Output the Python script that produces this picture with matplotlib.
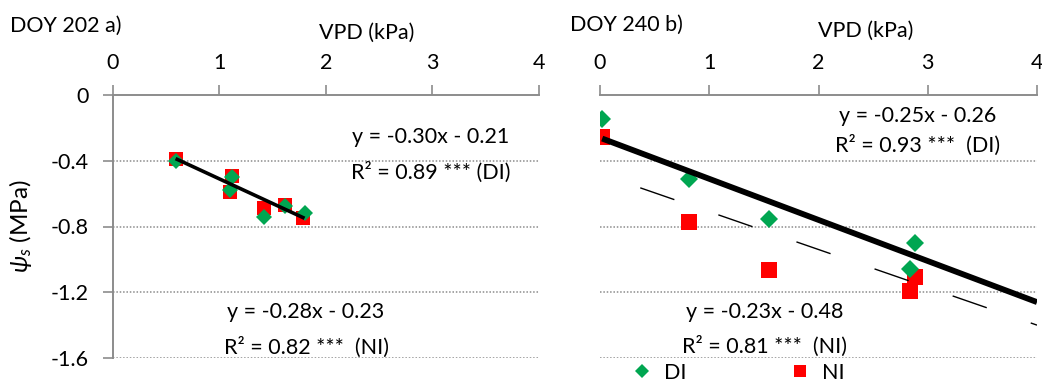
import numpy as np
import matplotlib
matplotlib.use("Agg")
import matplotlib.pyplot as plt

# ---------------------------------------------------------------------------#
# data
# DOY 202 (panel a)
vpd_a_di = [0.59, 1.12, 1.10, 1.42, 1.62, 1.80]
psi_a_di = [-0.40, -0.50, -0.576, -0.743, -0.678, -0.716]
vpd_a_ni = [0.59, 1.12, 1.10, 1.42, 1.615, 1.79]
psi_a_ni = [-0.387, -0.495, -0.59, -0.69, -0.67, -0.75]

# DOY 240 (panel b)
vpd_b_di = [0.02, 0.815, 1.545, 2.887, 2.837]
psi_b_di = [-0.148, -0.509, -0.753, -0.90, -1.058]
vpd_b_ni = [0.02, 0.815, 1.545, 2.887, 2.837]
psi_b_ni = [-0.255, -0.774, -1.063, -1.105, -1.195]

# regression coefficients (slope, intercept)
fit_a_di = (-0.30, -0.21)
fit_b_di = (-0.25, -0.26)
fit_b_ni = (-0.23, -0.48)

xticks = [0, 1, 2, 3, 4]
yticks = [0, -0.4, -0.8, -1.2, -1.6]
ytick_labels = ["0", "-0.4", "-0.8", "-1.2", "-1.6"]

GREEN = "#00a651"
RED = "#ff0000"
GREY = "#8c8c8c"
FONT = "Lato"
FS = 15.5

plt.rcParams["font.family"] = [FONT, "DejaVu Sans"]
plt.rcParams["mathtext.fontset"] = "custom"
plt.rcParams["mathtext.it"] = FONT + ":italic"
plt.rcParams["mathtext.rm"] = FONT

W, H = 1042, 385
fig = plt.figure(figsize=(W / 100, H / 100), dpi=100)


def px(x, y):
    """pixel position (from top left) -> figure fraction"""
    return x / W, 1 - y / H


def make_axes(left, right):
    ax = fig.add_axes([left / W, 1 - 358 / H, (right - left) / W, 263 / H])
    ax.set_xlim(0, 4)
    ax.set_ylim(-1.6, 0)
    ax.xaxis.tick_top()
    ax.set_xticks(xticks)
    ax.set_xticklabels([str(t) for t in xticks], fontsize=FS)
    ax.tick_params(axis="x", direction="out", length=7, width=1.2,
                   color=GREY, pad=9)
    ax.set_yticks(yticks)
    for s in ["bottom", "right"]:
        ax.spines[s].set_visible(False)
    for s in ["top", "left"]:
        ax.spines[s].set_color(GREY)
        ax.spines[s].set_linewidth(1.4)
    # dotted horizontal grid
    for yv in yticks[1:]:
        ax.axhline(yv, color=GREY, lw=1.1, ls=(0, (1, 1.2)), zorder=0)
    return ax


#-------------------------------panel a--------------------------------------#
ax1 = make_axes(112.7, 539)
ax1.set_yticklabels(ytick_labels, fontsize=FS)
ax1.tick_params(axis="y", direction="out", length=7, width=1.2,
                color=GREY, pad=10)
ax1.plot(vpd_a_ni, psi_a_ni, "s", color=RED, ms=10, mew=0, zorder=3)
ax1.plot(vpd_a_di, psi_a_di, "D", color=GREEN, ms=8.2, mew=0, zorder=4)
xa = np.array([min(vpd_a_di), max(vpd_a_di)])
ax1.plot(xa, fit_a_di[0] * xa + fit_a_di[1], color="black", lw=2.6,
         solid_capstyle="butt", zorder=5)

#-------------------------------panel b--------------------------------------#
ax2 = make_axes(600, 1037)
ax2.spines["left"].set_visible(False)
ax2.tick_params(axis="y", left=False, labelleft=False)
ax2.plot(vpd_b_ni, psi_b_ni, "s", color=RED, ms=12.2, mew=0, zorder=3)
ax2.plot(vpd_b_di, psi_b_di, "D", color=GREEN, ms=8.7, mew=0, zorder=4)
xb = np.array([min(vpd_b_di), 4])
ax2.plot(xb, fit_b_di[0] * xb + fit_b_di[1], color="black", lw=4.2,
         solid_capstyle="butt", zorder=5)
ax2.plot(xb, fit_b_ni[0] * xb + fit_b_ni[1], color="black", lw=1.0,
         ls=(30.5, (26, 33.5)), zorder=5)

#-------------------------------labels---------------------------------------#
fig.text(*px(10, 26), "DOY 202 a)", fontsize=FS, ha="left", va="center")
fig.text(*px(570, 25), "DOY 240 b)", fontsize=FS, ha="left", va="center")
fig.text(*px(367, 33), "VPD (kPa)", fontsize=FS, ha="center", va="center")
fig.text(*px(866, 31), "VPD (kPa)", fontsize=FS, ha="center", va="center")
fig.text(*px(20, 226), r"$\mathit{\psi_s}$ (MPa)", fontsize=17.5,
         ha="center", va="center", rotation=90)

fig.text(*px(431, 137), "y = -0.30x - 0.21", fontsize=FS, ha="center", va="center")
fig.text(*px(431, 172), "R² = 0.89 *** (DI)", fontsize=FS, ha="center", va="center")
fig.text(*px(306, 312), "y = -0.28x - 0.23", fontsize=FS, ha="center", va="center")
fig.text(*px(306, 347), "R² = 0.82 ***  (NI)", fontsize=FS, ha="center", va="center")
fig.text(*px(918, 116), "y = -0.25x - 0.26", fontsize=FS, ha="center", va="center")
fig.text(*px(918, 145), "R² = 0.93 ***  (DI)", fontsize=FS, ha="center", va="center")
fig.text(*px(765, 312), "y = -0.23x - 0.48", fontsize=FS, ha="center", va="center")
fig.text(*px(765, 346), "R² = 0.81 ***  (NI)", fontsize=FS, ha="center", va="center")

# legend
leg = ax2.legend(
    handles=[plt.Line2D([], [], ls="", marker="D", color=GREEN, ms=7.5, mew=0, label="DI"),
             plt.Line2D([], [], ls="", marker="s", color=RED, ms=9, mew=0, label="NI")],
    loc="center", bbox_to_anchor=px(738, 373), bbox_transform=fig.transFigure,
    ncol=2, frameon=False, fontsize=FS, handlelength=1.0, handletextpad=0.5,
    columnspacing=4.8)

fig.savefig("out.png", dpi=100)
